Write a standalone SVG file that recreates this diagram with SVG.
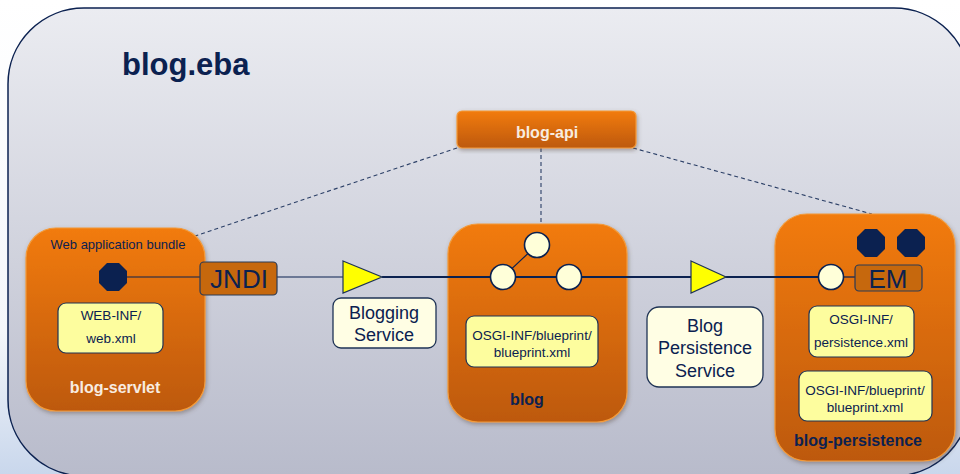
<svg xmlns="http://www.w3.org/2000/svg" width="960" height="474" viewBox="0 0 960 474">
<defs>
<linearGradient id="bgOut" x1="0" y1="0" x2="0" y2="1">
<stop offset="0" stop-color="#ffffff"/><stop offset="0.7" stop-color="#f4f6fa"/><stop offset="1" stop-color="#c9d7ec"/>
</linearGradient>
<linearGradient id="bgIn" x1="0" y1="0" x2="0" y2="1">
<stop offset="0" stop-color="#ebecf1"/><stop offset="1" stop-color="#b8bbcb"/>
</linearGradient>
<linearGradient id="orange" x1="0" y1="0" x2="0" y2="1">
<stop offset="0" stop-color="#f27b08"/><stop offset="1" stop-color="#bd5907"/>
</linearGradient>
<linearGradient id="orangeApi" x1="0" y1="0" x2="0" y2="1">
<stop offset="0" stop-color="#f07a08"/><stop offset="1" stop-color="#b85606"/>
</linearGradient>
<filter id="sh" x="-10%" y="-10%" width="125%" height="125%">
<feDropShadow dx="1" dy="2" stdDeviation="2" flood-color="#5a4a40" flood-opacity="0.45"/>
</filter>
<polygon id="oct" points="-6,-14 6,-14 14,-6 14,6 6,14 -6,14 -14,6 -14,-6"/>
</defs>
<style>
.bundle{fill:url(#orange);stroke:#f39a3a;stroke-width:1.2;filter:url(#sh)}
.file{fill:#fdfd9e;stroke:#1f3355;stroke-width:1.2}
.label{fill:#fffee4;stroke:#1f3355;stroke-width:1.3}
.tag{fill:#c6680d;stroke:#2b3a55;stroke-width:1.2}
.circ{fill:#ffffd9;stroke:#0b2150;stroke-width:1.6}
.oct{fill:#0b2150}
.tri{fill:#ffff00;stroke:#1f3355;stroke-width:1.2}
.dash{stroke:#2b3f66;stroke-width:1.1;stroke-dasharray:4,3;fill:none}
.wire{stroke:#0b2150;stroke-width:1.2;fill:none}
.wire2{stroke:#0b2150;stroke-width:2;fill:none}
text{font-family:"Liberation Sans",Arial,sans-serif;text-anchor:middle}
.ft{font-size:13.5px;fill:#0b2150}
.lt{font-size:18px;fill:#0b2150}
.bt{font-size:16px;font-weight:bold}
.big{font-size:26px;fill:#0b2150}
</style>
<rect x="0" y="0" width="960" height="474" fill="url(#bgOut)"/>
<rect x="8" y="8" width="962" height="468" rx="76" ry="76" fill="url(#bgIn)" stroke="#0b2150" stroke-width="1.5"/>
<text x="122" y="75" style="font-size:31px;font-weight:bold;fill:#0b2150;text-anchor:start">blog.eba</text>

<g id="connectors">
<line class="dash" x1="457" y1="148" x2="192" y2="237"/>
<line class="dash" x1="541" y1="148" x2="541" y2="224"/>
<line class="dash" x1="633" y1="148" x2="872" y2="214"/>
</g>

<g id="blog-api">
<rect class="bundle" x="457" y="111" width="179" height="37" rx="5"/>
<text class="bt" x="547" y="138" fill="#f8ece0">blog-api</text>
</g>

<g id="blog-servlet">
<rect class="bundle" x="26" y="228" width="179" height="183" rx="30"/>
<text x="118" y="249" style="font-size:13px;fill:#0b2150">Web application bundle</text>
<use href="#oct" class="oct" x="113" y="277"/>
<rect class="file" x="58" y="303" width="105" height="50" rx="8"/>
<text class="ft" x="111" y="320">WEB-INF/</text>
<text class="ft" x="111" y="343">web.xml</text>
<text class="bt" x="115" y="393" fill="#f8ece0">blog-servlet</text>
</g>

<g id="blog">
<rect class="bundle" x="448" y="224" width="179" height="198" rx="30"/>
<rect class="file" x="466" y="316" width="132" height="51" rx="8"/>
<text class="ft" x="532" y="340">OSGI-INF/blueprint/</text>
<text class="ft" x="532" y="357">blueprint.xml</text>
<text class="bt" x="527" y="405" fill="#0b2150">blog</text>
</g>

<g id="blog-persistence">
<rect class="bundle" x="775" y="214" width="180" height="247" rx="32"/>
<use href="#oct" class="oct" x="871" y="243"/>
<use href="#oct" class="oct" x="911" y="243"/>
<rect class="file" x="809" y="306" width="105" height="51" rx="8"/>
<text class="ft" x="861" y="324">OSGI-INF/</text>
<text class="ft" x="861" y="347">persistence.xml</text>
<rect class="file" x="799" y="371" width="133" height="50" rx="8"/>
<text class="ft" x="865" y="395">OSGI-INF/blueprint/</text>
<text class="ft" x="865" y="412">blueprint.xml</text>
<text class="bt" x="858" y="446" fill="#0b2150">blog-persistence</text>
</g>

<g id="wires">
<line class="wire" x1="127" y1="277" x2="201" y2="277"/>
<line class="wire" x1="277" y1="277" x2="344" y2="277"/>
<line class="wire2" x1="382" y1="277" x2="818" y2="277"/>
<line class="wire" x1="503" y1="277" x2="537" y2="245"/>
<line class="wire" x1="831" y1="277" x2="856" y2="277"/>
</g>

<g id="JNDI">
<rect class="tag" x="200" y="262" width="77" height="33" rx="4"/>
<text class="big" x="239" y="288">JNDI</text>
</g>

<g id="blogging-service">
<polygon class="tri" points="343,261 382,277 343,293"/>
<rect class="label" x="333" y="298" width="103" height="50" rx="8"/>
<text class="lt" x="384" y="319">Blogging</text>
<text class="lt" x="384" y="341">Service</text>
</g>

<g id="blog-refs">
<circle class="circ" cx="537" cy="245" r="12.5"/>
<circle class="circ" cx="503" cy="277" r="12.5"/>
<circle class="circ" cx="569" cy="277" r="12.5"/>
</g>

<g id="blog-persistence-service">
<polygon class="tri" points="691,261 726,277 691,293"/>
<rect class="label" x="647" y="307" width="116" height="80" rx="12"/>
<text class="lt" x="705" y="332">Blog</text>
<text class="lt" x="705" y="354">Persistence</text>
<text class="lt" x="705" y="377">Service</text>
</g>

<g id="EM">
<circle class="circ" cx="831" cy="277" r="12.5"/>
<rect class="tag" x="855" y="265" width="67" height="26" rx="4"/>
<text class="big" x="888" y="288">EM</text>
</g>
</svg>
